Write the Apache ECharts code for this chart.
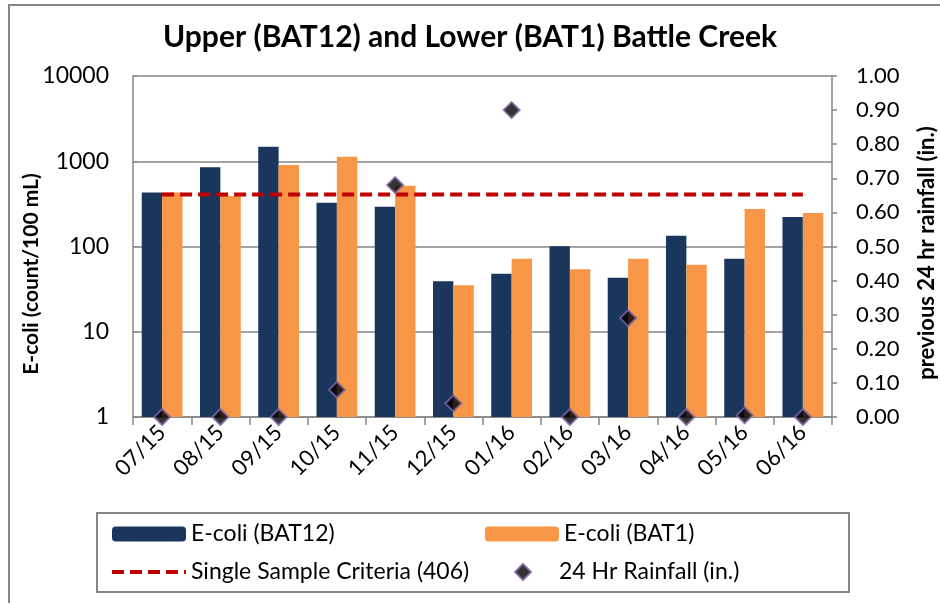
<!DOCTYPE html>
<html>
<head>
<meta charset="utf-8">
<script src="https://cdn.jsdelivr.net/npm/echarts@6/dist/echarts.min.js"></script>
<style>
  html, body { margin: 0; padding: 0; background: #fff; }
  #chart { width: 940px; height: 603px; }
</style>
</head>
<body>
<div id="chart"></div>
<script>
// 月份
const months = ['07/15', '08/15', '09/15', '10/15', '11/15', '12/15', '01/16', '02/16', '03/16', '04/16', '05/16', '06/16']
// E-coli counts
const bat12 = [430, 850, 1480, 326, 293, 39, 48, 101, 43, 134, 72, 222]
const bat1 = [430, 391, 903, 1130, 517, 35, 72, 54, 72, 61, 275, 247]
const criteria = [406, 406, 406, 406, 406, 406, 406, 406, 406, 406, 406, 406]
// rainfall (in.)
const rainfall = [0, 0, 0, 0.08, 0.68, 0.04, 0.90, 0, 0.29, 0, 0.005, 0]

const font = 'Lato'
const gray = '#868686'
const legendText = { fontFamily: font, fontSize: 23, color: '#000', lineHeight: 24 }

const myChart = echarts.init(document.getElementById('chart'))
const option = {
  animation: false,
  title: {
    text: 'Upper (BAT12) and Lower (BAT1) Battle Creek',
    left: 'center',
    top: 17,
    textStyle: { fontFamily: font, fontSize: 30, fontWeight: 'bold', color: '#000' }
  },
  graphic: [
    {
      type: 'rect',
      shape: { x: 9, y: 5, width: 1000, height: 1000 },
      style: { fill: 'none', stroke: gray, lineWidth: 2 }
    },
    {
      type: 'rect',
      shape: { x: 97, y: 513, width: 752, height: 79 },
      style: { fill: 'none', stroke: gray, lineWidth: 2 }
    },
    {
      // 左轴标题
      type: 'text',
      x: 31,
      y: 274,
      rotation: Math.PI / 2,
      style: {
        text: 'E-coli (count/100 mL)',
        fontFamily: font, fontSize: 21, fontWeight: 'bold', fill: '#000',
        align: 'center', verticalAlign: 'middle'
      }
    },
    {
      // 右轴标题
      type: 'text',
      x: 927,
      y: 253,
      rotation: Math.PI / 2,
      style: {
        text: 'previous 24 hr rainfall (in.)',
        fontFamily: font, fontSize: 22, fontWeight: 'bold', fill: '#000',
        align: 'center', verticalAlign: 'middle'
      }
    }
  ],
  grid: { left: 133, right: 108, top: 76, bottom: 186 },
  legend: [
    {
      orient: 'vertical',
      left: 105,
      top: 517,
      itemWidth: 74,
      itemHeight: 15,
      itemGap: 14,
      data: [
        'E-coli (BAT12)',
        { name: 'Single Sample Criteria (406)', itemStyle: { opacity: 0 }, lineStyle: { width: 4 } }
      ],
      textStyle: legendText
    },
    {
      left: 480,
      top: 517,
      itemWidth: 74,
      itemHeight: 15,
      data: ['E-coli (BAT1)'],
      textStyle: legendText
    },
    {
      left: 509,
      top: 555,
      itemWidth: 16,
      itemHeight: 16,
      data: ['24 Hr Rainfall (in.)'],
      textStyle: Object.assign({}, legendText, { padding: [0, 0, 0, 23] })
    }
  ],
  xAxis: {
    type: 'category',
    data: months,
    axisLine: { lineStyle: { color: gray, width: 1.5 } },
    axisTick: { show: true, length: 8, lineStyle: { color: gray, width: 1.5 } },
    axisLabel: { rotate: 45, fontFamily: font, fontSize: 22, color: '#000', margin: 12 }
  },
  yAxis: [
    {
      type: 'log',
      logBase: 10,
      min: 1,
      max: 10000,
      axisLine: { show: true, lineStyle: { color: gray, width: 1.5 } },
      axisTick: { show: true, inside: true, length: 5, lineStyle: { color: gray } },
      axisLabel: { fontFamily: font, fontSize: 23, color: '#000', margin: 24, formatter: v => String(v) },
      splitLine: { show: true, lineStyle: { color: gray, width: 1.5 } }
    },
    {
      type: 'value',
      min: 0,
      max: 1,
      interval: 0.1,
      position: 'right',
      axisLine: { show: true, lineStyle: { color: gray, width: 1.5 } },
      axisTick: { show: true, length: 5, lineStyle: { color: gray, width: 1.5 } },
      axisLabel: {
        fontFamily: font, fontSize: 22, color: '#000', margin: 24,
        formatter: v => v.toFixed(2)
      },
      splitLine: { show: false }
    }
  ],
  series: [
    {
      name: 'E-coli (BAT12)',
      type: 'bar',
      data: bat12,
      barGap: '0%',
      barCategoryGap: '30%',
      itemStyle: { color: '#1A365D' }
    },
    {
      name: 'E-coli (BAT1)',
      type: 'bar',
      data: bat1,
      itemStyle: { color: '#F79646' }
    },
    {
      name: 'Single Sample Criteria (406)',
      type: 'line',
      data: criteria,
      symbol: 'none',
      lineStyle: { color: '#C00000', width: 4, type: [12, 6] },
      itemStyle: { color: '#C00000' },
      z: 3
    },
    {
      name: '24 Hr Rainfall (in.)',
      type: 'scatter',
      yAxisIndex: 1,
      data: rainfall,
      symbol: 'diamond',
      symbolSize: 16,
      itemStyle: { color: '#000', borderColor: '#8064A2', borderWidth: 2 },
      z: 4
    }
  ]
}
myChart.setOption(option)
</script>
</body>
</html>
